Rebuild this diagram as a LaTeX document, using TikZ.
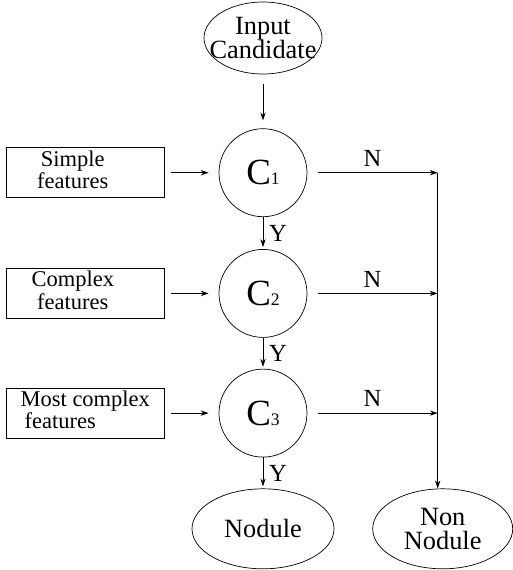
\documentclass[tikz,border=0pt]{standalone}
\usepackage{fontspec}
\setmainfont{Liberation Serif}
\usetikzlibrary{positioning,arrows.meta,shapes.geometric,calc}

\begin{document}
\begin{tikzpicture}[every node/.style={font=\fontsize{14}{15}\selectfont},
    >={Stealth[length=4.5pt,width=3pt]}, line width=0.4pt,
    oval/.style={draw,ellipse,inner xsep=-0.3cm,inner ysep=-0.1cm,align=center,
      font=\fontsize{15}{14}\selectfont},
    clf/.style={draw,circle,minimum size=1.76cm,inner sep=0pt},
    featbox/.style={draw,rectangle,minimum width=3.16cm,minimum height=1cm,inner sep=0pt,
      font=\fontsize{12.8}{12}\selectfont}]
  \useasboundingbox (0,0) rectangle (10.24,-11.4);
  \newcommand{\clfname}[1]{\fontsize{21}{22}\selectfont C\fontsize{10}{11}\selectfont #1}
  \node[oval,minimum width=2.36cm,minimum height=1.44cm] (input) at (5.26,-0.76) {Input\\Candidate};
  \node[clf,below=1.08cm of input] (c1) {\clfname{1}};
  \node[clf,below=0.64cm of c1] (c2) {\clfname{2}};
  \node[clf,below=0.62cm of c2] (c3) {\clfname{3}};
  \node[oval,minimum width=2.84cm,minimum height=1.6cm,below=0.62cm of c3] (nod) {Nodule};
  \node[oval,minimum width=2.8cm,minimum height=1.6cm,right=0.76cm of nod] (nonnod) {Non\\Nodule};
  % feature sets
  \node[featbox,left=1.08cm of c1] (f1) {\begin{tabular}{@{}c@{\hspace{0.5cm}}}Simple\\features\end{tabular}};
  \node[featbox,left=1.08cm of c2] (f2) {\begin{tabular}{@{}c@{\hspace{0.5cm}}}Complex\\features\end{tabular}};
  \node[featbox,left=1.08cm of c3] (f3) {\begin{tabular}{@{}l@{}}Most complex\\\hspace{0.08cm}features\end{tabular}};
  \coordinate (j1) at ([xshift=-1mm]nonnod.north |- c1);
  \coordinate (j2) at (j1 |- c2);
  \coordinate (j3) at (j1 |- c3);
  \coordinate (jend) at (j1 |- nonnod.north);
  \draw[->,shorten <=0.2cm,shorten >=0.16cm] (input) -- (c1);
  \draw[->,shorten <=0.12cm,shorten >=0.2cm] (f1) -- (c1);
  \draw[->,shorten <=0.12cm,shorten >=0.2cm] (f2) -- (c2);
  \draw[->,shorten <=0.12cm,shorten >=0.2cm] (f3) -- (c3);
  \draw[->,shorten >=0.04cm] (c1) -- node[right] {Y} (c2);
  \draw[->,shorten >=0.04cm] (c2) -- node[right] {Y} (c3);
  \draw[->,shorten >=0.04cm] (c3) -- node[right] {Y} (nod);
  \draw[->,shorten <=0.22cm] (c1) -- node[above] {N} (j1);
  \draw[->,shorten <=0.22cm] (c2) -- node[above] {N} (j2);
  \draw[->,shorten <=0.22cm] (c3) -- node[above] {N} (j3);
  \draw[->] (j1) -- (jend);
\end{tikzpicture}
\end{document}
